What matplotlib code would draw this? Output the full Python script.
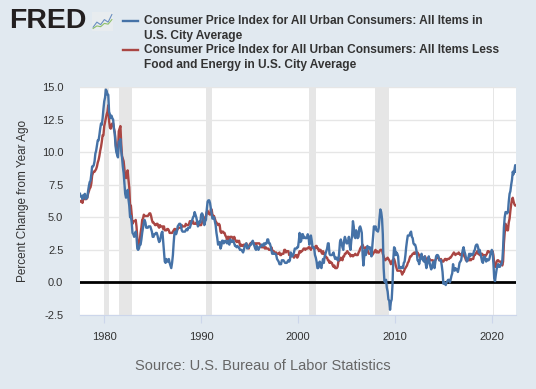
#!/usr/bin/env python3
import datetime as DT

import matplotlib
matplotlib.use('Agg')
import matplotlib.pyplot as plt
import matplotlib.dates as mdates
import pandas as pd

plt.rcParams['font.family'] = ['Liberation Sans', 'DejaVu Sans']

# Percent change from year ago, monthly, 1977-07 .. 2022-07
cpi_all = [
    # 1977 (Jul-Dec)
    6.8, 6.6, 6.6, 6.4, 6.7, 6.7,
    6.8, 6.4, 6.6, 6.5, 7.0, 7.4, 7.7, 7.8, 8.3, 8.9, 8.9, 9.0,
    9.3, 9.9, 10.1, 10.5, 10.9, 10.9, 11.3, 11.8, 12.2, 12.1, 12.6, 13.3,
    13.9, 14.2, 14.8, 14.7, 14.4, 14.4, 13.1, 12.9, 12.6, 12.8, 12.6, 12.5,
    11.8, 11.4, 10.5, 10.0, 9.8, 9.6, 10.8, 10.8, 11.0, 10.1, 9.6, 8.9,
    8.4, 7.6, 6.8, 6.5, 6.7, 7.1, 6.4, 5.9, 5.0, 5.1, 4.6, 3.8,
    3.7, 3.5, 3.6, 3.9, 3.5, 2.6, 2.5, 2.6, 2.9, 2.9, 3.3, 3.8,
    4.2, 4.6, 4.8, 4.6, 4.2, 4.2, 4.2, 4.3, 4.3, 4.3, 4.1, 3.9,
    3.5, 3.5, 3.7, 3.7, 3.8, 3.8, 3.6, 3.3, 3.1, 3.2, 3.5, 3.8,
    3.9, 3.1, 2.3, 1.6, 1.5, 1.8, 1.6, 1.6, 1.8, 1.5, 1.3, 1.1,
    1.5, 2.1, 3.0, 3.8, 3.9, 3.7, 3.9, 4.3, 4.4, 4.5, 4.5, 4.4,
    4.0, 3.9, 3.9, 3.9, 3.9, 4.0, 4.1, 4.0, 4.2, 4.2, 4.2, 4.4,
    4.7, 4.8, 5.0, 5.1, 5.4, 5.2, 5.0, 4.7, 4.3, 4.5, 4.7, 4.6,
    5.2, 5.3, 5.2, 4.7, 4.4, 4.7, 4.8, 5.6, 6.2, 6.3, 6.3, 6.1,
    5.7, 5.3, 4.9, 4.9, 5.0, 4.7, 4.4, 3.8, 3.4, 2.9, 3.0, 3.1,
    2.6, 2.8, 3.2, 3.2, 3.0, 3.1, 3.2, 3.1, 3.0, 3.2, 3.0, 2.9,
    3.3, 3.2, 3.1, 3.2, 3.2, 3.0, 2.8, 2.8, 2.7, 2.8, 2.7, 2.7,
    2.5, 2.5, 2.5, 2.4, 2.3, 2.5, 2.8, 2.9, 3.0, 2.6, 2.7, 2.7,
    2.8, 2.9, 2.9, 3.1, 3.2, 3.0, 2.8, 2.6, 2.5, 2.8, 2.6, 2.5,
    2.7, 2.7, 2.8, 2.9, 2.9, 2.8, 3.0, 2.9, 3.0, 3.0, 3.3, 3.3,
    3.0, 3.0, 2.8, 2.5, 2.2, 2.3, 2.2, 2.2, 2.2, 2.1, 1.8, 1.7,
    1.6, 1.4, 1.4, 1.4, 1.7, 1.7, 1.7, 1.6, 1.5, 1.5, 1.5, 1.6,
    1.7, 1.6, 1.7, 2.3, 2.1, 2.0, 2.1, 2.3, 2.6, 2.6, 2.6, 2.7,
    2.7, 3.2, 3.8, 3.1, 3.2, 3.7, 3.7, 3.4, 3.5, 3.4, 3.4, 3.4,
    3.7, 3.5, 2.9, 3.3, 3.6, 3.2, 2.7, 2.7, 2.6, 2.1, 1.9, 1.6,
    1.1, 1.1, 1.5, 1.6, 1.2, 1.1, 1.5, 1.8, 1.5, 2.0, 2.2, 2.4,
    2.6, 3.0, 3.0, 2.2, 2.1, 2.1, 2.1, 2.2, 2.3, 2.0, 1.8, 1.9,
    1.9, 1.7, 1.7, 2.3, 3.1, 3.3, 3.0, 2.7, 2.5, 3.2, 3.5, 3.3,
    3.0, 3.0, 3.1, 3.5, 2.8, 2.5, 3.2, 3.6, 4.7, 4.3, 3.5, 3.4,
    4.0, 3.6, 3.4, 3.5, 4.2, 4.3, 4.1, 3.8, 2.1, 1.3, 2.0, 2.5,
    2.1, 2.4, 2.8, 2.6, 2.7, 2.7, 2.4, 2.0, 2.8, 3.5, 4.3, 4.1,
    4.3, 4.0, 4.0, 3.9, 4.2, 5.0, 5.6, 5.4, 4.9, 3.7, 1.1, 0.1,
    0.0, 0.2, -0.4, -0.7, -1.3, -1.4, -2.1, -1.5, -1.3, -0.2, 1.8, 2.7,
    2.6, 2.1, 2.3, 2.2, 2.0, 1.1, 1.2, 1.1, 1.1, 1.2, 1.1, 1.5,
    1.6, 2.1, 2.7, 3.2, 3.6, 3.6, 3.6, 3.8, 3.9, 3.5, 3.4, 3.0,
    2.9, 2.9, 2.7, 2.3, 1.7, 1.7, 1.4, 1.7, 2.0, 2.2, 1.8, 1.7,
    1.6, 2.0, 1.5, 1.1, 1.4, 1.8, 2.0, 1.5, 1.2, 1.0, 1.2, 1.5,
    1.6, 1.1, 1.5, 2.0, 2.1, 2.1, 2.0, 1.7, 1.7, 1.7, 1.3, 0.8,
    -0.1, 0.0, -0.1, -0.2, 0.0, 0.1, 0.2, 0.2, 0.0, 0.2, 0.5, 0.7,
    1.4, 1.0, 0.9, 1.1, 1.0, 1.0, 0.8, 1.1, 1.5, 1.6, 1.7, 2.1,
    2.5, 2.7, 2.4, 2.2, 1.9, 1.6, 1.7, 1.9, 2.2, 2.0, 2.2, 2.1,
    2.1, 2.2, 2.4, 2.5, 2.8, 2.9, 2.9, 2.7, 2.3, 2.5, 2.2, 1.9,
    1.6, 1.5, 1.9, 2.0, 1.8, 1.6, 1.8, 1.7, 1.7, 1.8, 2.1, 2.3,
    2.5, 2.3, 1.5, 0.3, 0.1, 0.6, 1.0, 1.3, 1.4, 1.2, 1.2, 1.4,
    1.4, 1.7, 2.6, 4.2, 5.0, 5.4, 5.4, 5.3, 5.4, 6.2, 6.8, 7.0,
    7.5, 7.9, 8.5, 8.3, 8.6, 9.0, 8.5,
]

cpi_core = [
    # 1977 (Jul-Dec)
    6.2, 6.2, 6.3, 6.1, 6.4, 6.5,
    6.4, 6.4, 6.4, 6.5, 6.8, 7.0, 7.2, 7.3, 7.6, 8.2, 8.4, 8.5,
    8.5, 8.6, 8.7, 8.9, 9.2, 9.4, 9.7, 10.1, 10.4, 10.8, 11.3, 11.3,
    12.0, 12.3, 12.6, 12.9, 13.1, 13.6, 12.4, 11.9, 11.8, 12.1, 12.2, 12.2,
    11.8, 11.5, 10.9, 10.2, 10.0, 9.9, 11.6, 11.8, 12.0, 10.7, 9.7, 9.5,
    9.3, 8.7, 8.1, 8.0, 8.4, 8.6, 7.9, 7.3, 5.9, 5.9, 5.2, 4.5,
    4.7, 4.7, 4.7, 4.8, 4.3, 3.4, 2.8, 2.8, 3.2, 3.8, 4.2, 4.8,
    4.9, 5.2, 5.1, 5.1, 5.1, 5.1, 5.1, 5.2, 5.3, 5.3, 5.1, 4.8,
    4.6, 4.6, 4.5, 4.4, 4.4, 4.5, 4.5, 4.3, 4.2, 4.4, 4.3, 4.3,
    4.3, 4.1, 4.3, 4.0, 4.0, 4.0, 4.1, 4.1, 4.0, 3.8, 3.8, 3.8,
    3.8, 3.9, 4.0, 4.1, 4.1, 4.0, 4.0, 4.1, 4.2, 4.2, 4.2, 4.2,
    4.4, 4.3, 4.3, 4.3, 4.3, 4.5, 4.4, 4.4, 4.4, 4.5, 4.7, 4.7,
    4.5, 4.6, 4.7, 4.5, 4.5, 4.5, 4.6, 4.5, 4.4, 4.4, 4.4, 4.4,
    4.4, 4.6, 4.8, 4.9, 4.9, 5.0, 5.1, 5.4, 5.5, 5.3, 5.3, 5.2,
    5.6, 5.6, 5.2, 5.1, 5.1, 4.9, 4.7, 4.6, 4.5, 4.4, 4.5, 4.4,
    3.9, 3.8, 3.9, 3.9, 3.8, 3.8, 3.6, 3.5, 3.3, 3.5, 3.5, 3.3,
    3.5, 3.5, 3.5, 3.4, 3.3, 3.5, 3.3, 3.2, 3.1, 3.2, 3.1, 3.2,
    2.9, 2.8, 2.9, 2.8, 2.8, 2.9, 2.9, 2.9, 3.0, 2.8, 2.8, 2.6,
    2.9, 3.0, 3.0, 3.1, 3.1, 3.0, 3.0, 3.0, 2.9, 3.0, 3.0, 3.0,
    3.0, 2.9, 2.8, 2.7, 2.7, 2.7, 2.7, 2.6, 2.7, 2.6, 2.6, 2.6,
    2.5, 2.5, 2.5, 2.7, 2.5, 2.4, 2.4, 2.3, 2.2, 2.3, 2.2, 2.2,
    2.2, 2.3, 2.1, 2.1, 2.2, 2.2, 2.2, 2.5, 2.5, 2.3, 2.4, 2.4,
    2.4, 2.1, 2.1, 2.2, 2.0, 2.1, 2.1, 1.9, 2.0, 2.1, 2.1, 1.9,
    2.0, 2.2, 2.4, 2.3, 2.4, 2.4, 2.5, 2.6, 2.6, 2.5, 2.6, 2.6,
    2.6, 2.7, 2.7, 2.6, 2.5, 2.7, 2.7, 2.7, 2.6, 2.6, 2.8, 2.8,
    2.6, 2.6, 2.4, 2.5, 2.5, 2.3, 2.2, 2.4, 2.2, 2.2, 2.0, 1.9,
    1.9, 1.7, 1.7, 1.5, 1.6, 1.5, 1.5, 1.3, 1.2, 1.3, 1.1, 1.1,
    1.1, 1.2, 1.6, 1.8, 1.7, 1.9, 1.8, 1.7, 2.0, 2.0, 2.2, 2.2,
    2.3, 2.4, 2.3, 2.2, 2.2, 2.0, 2.1, 2.1, 2.0, 2.1, 2.1, 2.2,
    2.1, 2.1, 2.1, 2.3, 2.4, 2.6, 2.7, 2.8, 2.9, 2.7, 2.6, 2.6,
    2.7, 2.7, 2.5, 2.3, 2.2, 2.2, 2.2, 2.1, 2.1, 2.2, 2.3, 2.4,
    2.5, 2.3, 2.4, 2.3, 2.3, 2.4, 2.5, 2.5, 2.5, 2.2, 2.0, 1.8,
    1.7, 1.8, 1.8, 1.9, 1.8, 1.7, 1.6, 1.4, 1.5, 1.7, 1.7, 1.8,
    1.6, 1.3, 1.1, 0.9, 0.9, 0.9, 0.9, 0.9, 0.8, 0.6, 0.8, 0.8,
    1.0, 1.1, 1.2, 1.3, 1.5, 1.6, 1.8, 2.0, 2.0, 2.1, 2.2, 2.2,
    2.3, 2.2, 2.3, 2.3, 2.3, 2.2, 2.1, 1.9, 2.0, 2.0, 1.9, 1.9,
    1.9, 2.0, 1.9, 1.7, 1.7, 1.6, 1.7, 1.8, 1.7, 1.7, 1.7, 1.7,
    1.6, 1.6, 1.7, 1.8, 2.0, 1.9, 1.9, 1.7, 1.7, 1.8, 1.7, 1.6,
    1.6, 1.7, 1.8, 1.8, 1.7, 1.8, 1.8, 1.8, 1.9, 1.9, 2.0, 2.1,
    2.2, 2.3, 2.2, 2.1, 2.2, 2.2, 2.2, 2.3, 2.2, 2.1, 2.1, 2.2,
    2.3, 2.2, 2.0, 1.9, 1.7, 1.7, 1.7, 1.7, 1.7, 1.8, 1.7, 1.8,
    1.8, 1.8, 2.1, 2.1, 2.2, 2.3, 2.4, 2.2, 2.2, 2.1, 2.2, 2.2,
    2.2, 2.1, 2.0, 2.1, 2.0, 2.1, 2.2, 2.4, 2.4, 2.3, 2.3, 2.3,
    2.3, 2.4, 2.1, 1.4, 1.2, 1.2, 1.6, 1.7, 1.7, 1.6, 1.6, 1.6,
    1.4, 1.3, 1.6, 3.0, 3.8, 4.5, 4.3, 4.0, 4.0, 4.6, 4.9, 5.5,
    6.0, 6.4, 6.5, 6.2, 6.0, 5.9, 5.9,
]

recessions = [
    ('1980-01-01', '1980-07-01'),
    ('1981-07-01', '1982-11-01'),
    ('1990-07-01', '1991-03-01'),
    ('2001-03-01', '2001-11-01'),
    ('2007-12-01', '2009-06-01'),
    ('2020-02-01', '2020-04-01'),
]

label_all = 'Consumer Price Index for All Urban Consumers: All Items in\nU.S. City Average'
label_core = 'Consumer Price Index for All Urban Consumers: All Items Less\nFood and Energy in U.S. City Average'

y_ticks = [-2.5, 0.0, 2.5, 5.0, 7.5, 10.0, 12.5, 15.0]
x_years = [1980, 1990, 2000, 2010, 2020]

BG = '#e1e9f0'
BLUE = '#4572a7'
RED = '#aa4643'

dates = pd.date_range('1977-07-01', periods=len(cpi_all), freq='MS')

fig = plt.figure(figsize=(5.36, 3.89), dpi=100, facecolor=BG)
ax = fig.add_axes([80 / 536, 1 - 315 / 389, 436 / 536, 228 / 389])
ax.set_facecolor('white')

for start, end in recessions:
    ax.axvspan(pd.Timestamp(start), pd.Timestamp(end), color='#e6e6e6', lw=0, zorder=1)

ax.set_ylim(-2.5, 15.0)
ax.set_yticks(y_ticks)
ax.set_yticklabels([f'{v:.1f}' for v in y_ticks])
ax.grid(axis='y', color='#e6e6e6', lw=1, zorder=0)
ax.set_axisbelow(True)

ax.axhline(0, color='black', lw=2, zorder=2)
ax.plot(dates, cpi_core, color=RED, lw=1.7, zorder=3)
ax.plot(dates, cpi_all, color=BLUE, lw=1.7, zorder=4)

ax.set_xlim(dates[0], dates[-1])
ax.set_xticks([pd.Timestamp(DT.date(y, 1, 1)) for y in x_years])
ax.xaxis.set_major_formatter(mdates.DateFormatter('%Y'))

for side in ('top', 'right', 'left'):
    ax.spines[side].set_visible(False)
ax.spines['bottom'].set_color('#ccd6eb')
ax.tick_params(axis='x', colors='#ccd6eb', labelcolor='#333333', labelsize=8, length=6, pad=6)
ax.tick_params(axis='y', length=0, labelcolor='#333333', labelsize=8, pad=12)

ax.set_ylabel('Percent Change from Year Ago', fontsize=8.5, color='#333333', labelpad=9)

# header: logo and legend
fig.text(9 / 536, 1 - 21 / 389, 'FRED', fontsize=20.5, fontweight='bold', color='#231f20',
         va='center', ha='left')
icon = fig.add_axes([92 / 536, 1 - 31 / 389, 21 / 536, 19 / 389])
icon.set_facecolor('#e8ecef')
icon.plot([0, 1, 2, 3, 4, 5], [1, 3, 2, 4, 3, 6], color='#6a8fc0', lw=0.8)
icon.plot([0, 1, 2, 3, 4, 5], [0.5, 1.5, 1.2, 2.5, 2.2, 4], color='#8ec06a', lw=0.8)
icon.set_xlim(-0.3, 5.3)
icon.set_ylim(-0.5, 7)
icon.set_xticks([])
icon.set_yticks([])
for s in icon.spines.values():
    s.set_visible(False)

for y0, color, text in ((20.5, BLUE, label_all), (50, RED, label_core)):
    fig.add_artist(plt.Line2D([123 / 536, 138 / 536], [1 - y0 / 389] * 2, color=color, lw=1.7))
    for i, row in enumerate(text.split('\n')):
        fig.text(144 / 536, 1 - (y0 + 15 * i) / 389, row, fontsize=8.6, fontweight='bold',
                 color='#333333', va='center', ha='left')

fig.text(263 / 536, 1 - 366 / 389, 'Source: U.S. Bureau of Labor Statistics', fontsize=10.5,
         color='#666666', ha='center', va='center')

fig.savefig('out.png', dpi=100, facecolor=BG)
